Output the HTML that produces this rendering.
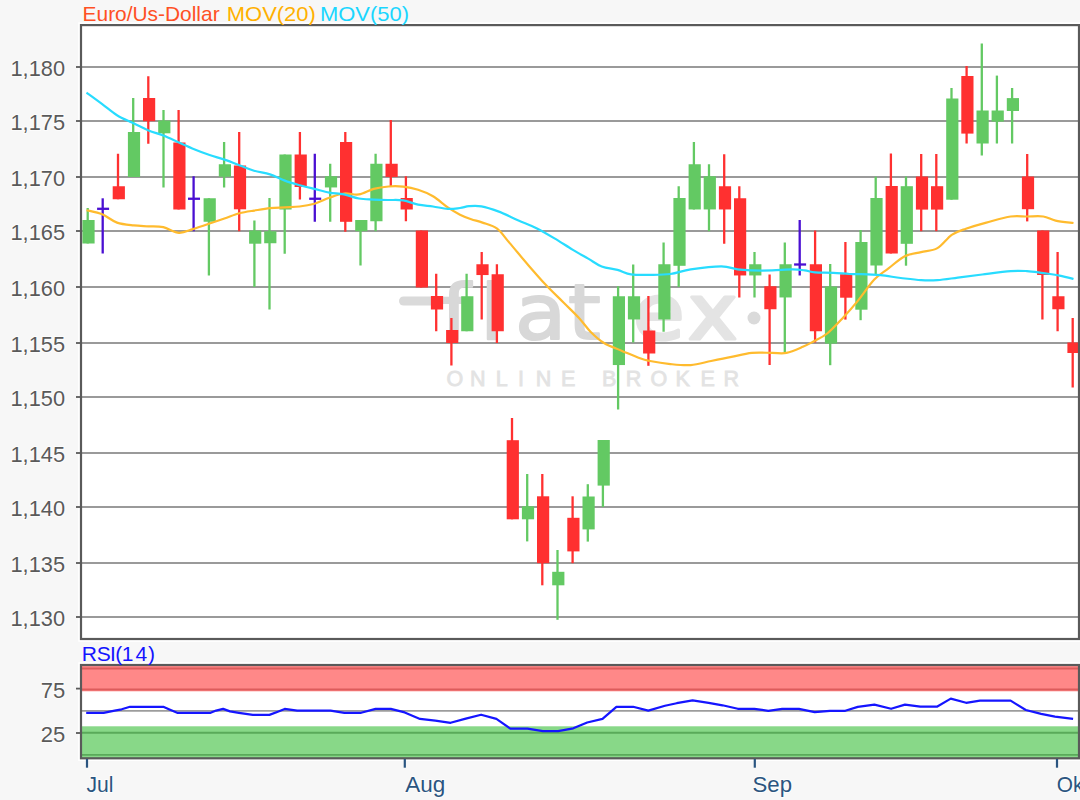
<!DOCTYPE html>
<html><head><meta charset="utf-8"><title>Euro/Us-Dollar</title>
<style>html,body{margin:0;padding:0;background:#f7f7f7;width:1080px;height:800px;overflow:hidden}svg{display:block}</style>
</head><body>
<svg width="1080" height="800" viewBox="0 0 1080 800">
<rect x="0" y="0" width="1080" height="800" fill="#f7f7f7"/>
<rect x="81" y="25.1" width="998" height="613.9" fill="#ffffff" stroke="#ffffff" stroke-width="5.6"/>
<line x1="81" y1="67.0" x2="1079" y2="67.0" stroke="#9a9a9a" stroke-width="1.8"/>
<line x1="76" y1="67.0" x2="81" y2="67.0" stroke="#5a5a5a" stroke-width="1.8"/>
<line x1="81" y1="121.0" x2="1079" y2="121.0" stroke="#9a9a9a" stroke-width="1.8"/>
<line x1="76" y1="121.0" x2="81" y2="121.0" stroke="#5a5a5a" stroke-width="1.8"/>
<line x1="81" y1="177.0" x2="1079" y2="177.0" stroke="#9a9a9a" stroke-width="1.8"/>
<line x1="76" y1="177.0" x2="81" y2="177.0" stroke="#5a5a5a" stroke-width="1.8"/>
<line x1="81" y1="231.0" x2="1079" y2="231.0" stroke="#9a9a9a" stroke-width="1.8"/>
<line x1="76" y1="231.0" x2="81" y2="231.0" stroke="#5a5a5a" stroke-width="1.8"/>
<line x1="81" y1="287.0" x2="1079" y2="287.0" stroke="#9a9a9a" stroke-width="1.8"/>
<line x1="76" y1="287.0" x2="81" y2="287.0" stroke="#5a5a5a" stroke-width="1.8"/>
<line x1="81" y1="343.0" x2="1079" y2="343.0" stroke="#9a9a9a" stroke-width="1.8"/>
<line x1="76" y1="343.0" x2="81" y2="343.0" stroke="#5a5a5a" stroke-width="1.8"/>
<line x1="81" y1="397.0" x2="1079" y2="397.0" stroke="#9a9a9a" stroke-width="1.8"/>
<line x1="76" y1="397.0" x2="81" y2="397.0" stroke="#5a5a5a" stroke-width="1.8"/>
<line x1="81" y1="453.0" x2="1079" y2="453.0" stroke="#9a9a9a" stroke-width="1.8"/>
<line x1="76" y1="453.0" x2="81" y2="453.0" stroke="#5a5a5a" stroke-width="1.8"/>
<line x1="81" y1="507.0" x2="1079" y2="507.0" stroke="#9a9a9a" stroke-width="1.8"/>
<line x1="76" y1="507.0" x2="81" y2="507.0" stroke="#5a5a5a" stroke-width="1.8"/>
<line x1="81" y1="563.0" x2="1079" y2="563.0" stroke="#9a9a9a" stroke-width="1.8"/>
<line x1="76" y1="563.0" x2="81" y2="563.0" stroke="#5a5a5a" stroke-width="1.8"/>
<line x1="81" y1="617.0" x2="1079" y2="617.0" stroke="#9a9a9a" stroke-width="1.8"/>
<line x1="76" y1="617.0" x2="81" y2="617.0" stroke="#5a5a5a" stroke-width="1.8"/>
<g fill="#dadada" stroke="none">
<rect x="399" y="296.5" width="42" height="9" rx="4.5"/>
<circle cx="754" cy="318" r="6.5"/>
</g>
<text transform="scale(1.1,1)" x="400.9 436.4 468.2 516.4 575.5 625.5" y="339" font-family="DejaVu Sans, sans-serif" font-size="76" fill="#d8d8d8" stroke="#d8d8d8" stroke-width="2" stroke-linejoin="round">flat<tspan fill="#e4e4e4" stroke="#e4e4e4" stroke-width="3.2">ex</tspan></text>
<text x="446.4 469.9 495.8 518 535.8 561 580 602.1 625.8 650.5 675.4 700.6 723.6" y="385.8" font-family="Liberation Sans, sans-serif" font-size="21.5" fill="#e3e3e3" stroke="#e3e3e3" stroke-width="0.8">ONLINE BROKER</text>
<line x1="87.7" y1="208" x2="87.7" y2="243.5" stroke="#63c963" stroke-width="2.3"/>
<rect x="82.4" y="220" width="12.2" height="23.5" fill="#63c963"/>
<line x1="102.7" y1="198.3" x2="102.7" y2="253.5" stroke="#4a0fd2" stroke-width="2.3"/>
<line x1="97.1" y1="208.8" x2="109.1" y2="208.8" stroke="#4a0fd2" stroke-width="2.3"/>
<line x1="118.0" y1="153.75" x2="118.0" y2="199.25" stroke="#ff3030" stroke-width="2.3"/>
<rect x="112.7" y="186.25" width="12.2" height="13.0" fill="#ff3030"/>
<line x1="133.2" y1="98" x2="133.2" y2="177" stroke="#63c963" stroke-width="2.3"/>
<rect x="127.9" y="132" width="12.2" height="45.0" fill="#63c963"/>
<line x1="148.3" y1="76.25" x2="148.3" y2="143.75" stroke="#ff3030" stroke-width="2.3"/>
<rect x="143.0" y="98" width="12.2" height="23.2" fill="#ff3030"/>
<line x1="163.5" y1="110" x2="163.5" y2="187.5" stroke="#63c963" stroke-width="2.3"/>
<rect x="158.2" y="120.5" width="12.2" height="12.8" fill="#63c963"/>
<line x1="178.6" y1="110" x2="178.6" y2="209.5" stroke="#ff3030" stroke-width="2.3"/>
<rect x="173.3" y="142.5" width="12.2" height="67.0" fill="#ff3030"/>
<line x1="193.6" y1="176.25" x2="193.6" y2="231.25" stroke="#4a0fd2" stroke-width="2.3"/>
<line x1="188.0" y1="198.75" x2="200.0" y2="198.75" stroke="#4a0fd2" stroke-width="2.3"/>
<line x1="208.9" y1="198.25" x2="208.9" y2="275.5" stroke="#63c963" stroke-width="2.3"/>
<rect x="203.6" y="198.25" width="12.2" height="23.5" fill="#63c963"/>
<line x1="224.1" y1="142" x2="224.1" y2="187.5" stroke="#63c963" stroke-width="2.3"/>
<rect x="218.8" y="164.25" width="12.2" height="12.5" fill="#63c963"/>
<line x1="239.2" y1="132" x2="239.2" y2="231.25" stroke="#ff3030" stroke-width="2.3"/>
<rect x="233.9" y="165.5" width="12.2" height="43.8" fill="#ff3030"/>
<line x1="254.4" y1="220.5" x2="254.4" y2="287" stroke="#63c963" stroke-width="2.3"/>
<rect x="249.1" y="230.5" width="12.2" height="13.2" fill="#63c963"/>
<line x1="269.5" y1="198" x2="269.5" y2="309.5" stroke="#63c963" stroke-width="2.3"/>
<rect x="264.2" y="231.25" width="12.2" height="12.0" fill="#63c963"/>
<line x1="284.7" y1="154.5" x2="284.7" y2="253.75" stroke="#63c963" stroke-width="2.3"/>
<rect x="279.4" y="154.5" width="12.2" height="55.0" fill="#63c963"/>
<line x1="299.9" y1="132" x2="299.9" y2="199.5" stroke="#ff3030" stroke-width="2.3"/>
<rect x="294.6" y="154.5" width="12.2" height="32.5" fill="#ff3030"/>
<line x1="314.8" y1="153.75" x2="314.8" y2="221.75" stroke="#4a0fd2" stroke-width="2.3"/>
<line x1="309.2" y1="198.75" x2="321.2" y2="198.75" stroke="#4a0fd2" stroke-width="2.3"/>
<line x1="330.2" y1="163.75" x2="330.2" y2="221.75" stroke="#63c963" stroke-width="2.3"/>
<rect x="324.9" y="176.25" width="12.2" height="11.2" fill="#63c963"/>
<line x1="345.3" y1="132" x2="345.3" y2="231.75" stroke="#ff3030" stroke-width="2.3"/>
<rect x="340.0" y="142" width="12.2" height="79.8" fill="#ff3030"/>
<line x1="360.5" y1="220" x2="360.5" y2="265.5" stroke="#63c963" stroke-width="2.3"/>
<rect x="355.2" y="220" width="12.2" height="11.2" fill="#63c963"/>
<line x1="375.6" y1="153.75" x2="375.6" y2="231.25" stroke="#63c963" stroke-width="2.3"/>
<rect x="370.3" y="163.75" width="12.2" height="57.5" fill="#63c963"/>
<line x1="390.8" y1="120" x2="390.8" y2="186.25" stroke="#ff3030" stroke-width="2.3"/>
<rect x="385.5" y="163.75" width="12.2" height="13.2" fill="#ff3030"/>
<line x1="405.9" y1="176.25" x2="405.9" y2="221.25" stroke="#ff3030" stroke-width="2.3"/>
<rect x="400.6" y="198" width="12.2" height="11.5" fill="#ff3030"/>
<line x1="421.1" y1="230.5" x2="421.1" y2="287.5" stroke="#ff3030" stroke-width="2.3"/>
<rect x="415.8" y="230.5" width="12.2" height="57.0" fill="#ff3030"/>
<line x1="436.2" y1="273.75" x2="436.2" y2="331.25" stroke="#ff3030" stroke-width="2.3"/>
<rect x="430.9" y="296" width="12.2" height="13.5" fill="#ff3030"/>
<line x1="451.4" y1="318" x2="451.4" y2="365.5" stroke="#ff3030" stroke-width="2.3"/>
<rect x="446.1" y="330" width="12.2" height="13.0" fill="#ff3030"/>
<line x1="466.6" y1="273.75" x2="466.6" y2="331.25" stroke="#63c963" stroke-width="2.3"/>
<rect x="461.2" y="296.25" width="12.2" height="35.0" fill="#63c963"/>
<line x1="481.7" y1="252" x2="481.7" y2="319.5" stroke="#ff3030" stroke-width="2.3"/>
<rect x="476.4" y="264.25" width="12.2" height="10.8" fill="#ff3030"/>
<line x1="496.9" y1="264.25" x2="496.9" y2="343" stroke="#ff3030" stroke-width="2.3"/>
<rect x="491.6" y="274.25" width="12.2" height="57.0" fill="#ff3030"/>
<line x1="512.0" y1="418" x2="512.0" y2="519.3" stroke="#ff3030" stroke-width="2.3"/>
<rect x="506.7" y="440.2" width="12.2" height="79.1" fill="#ff3030"/>
<line x1="527.2" y1="474" x2="527.2" y2="541.4" stroke="#63c963" stroke-width="2.3"/>
<rect x="521.9" y="506.3" width="12.2" height="13.0" fill="#63c963"/>
<line x1="542.3" y1="474" x2="542.3" y2="585.3" stroke="#ff3030" stroke-width="2.3"/>
<rect x="537.0" y="496.3" width="12.2" height="66.9" fill="#ff3030"/>
<line x1="557.5" y1="550" x2="557.5" y2="619.8" stroke="#63c963" stroke-width="2.3"/>
<rect x="552.2" y="571.8" width="12.2" height="13.5" fill="#63c963"/>
<line x1="572.6" y1="496.3" x2="572.6" y2="563.2" stroke="#ff3030" stroke-width="2.3"/>
<rect x="567.3" y="517.8" width="12.2" height="33.6" fill="#ff3030"/>
<line x1="587.8" y1="484.2" x2="587.8" y2="541.6" stroke="#63c963" stroke-width="2.3"/>
<rect x="582.5" y="496.5" width="12.2" height="32.9" fill="#63c963"/>
<line x1="602.9" y1="440" x2="602.9" y2="507" stroke="#63c963" stroke-width="2.3"/>
<rect x="597.6" y="440" width="12.2" height="45.6" fill="#63c963"/>
<line x1="618.1" y1="286.25" x2="618.1" y2="409.5" stroke="#63c963" stroke-width="2.3"/>
<rect x="612.8" y="296.25" width="12.2" height="68.8" fill="#63c963"/>
<line x1="633.2" y1="264.5" x2="633.2" y2="342.5" stroke="#63c963" stroke-width="2.3"/>
<rect x="627.9" y="296.25" width="12.2" height="23.2" fill="#63c963"/>
<line x1="648.4" y1="296" x2="648.4" y2="365.8" stroke="#ff3030" stroke-width="2.3"/>
<rect x="643.1" y="330.5" width="12.2" height="23.0" fill="#ff3030"/>
<line x1="663.6" y1="242.5" x2="663.6" y2="331.75" stroke="#63c963" stroke-width="2.3"/>
<rect x="658.3" y="264.25" width="12.2" height="55.2" fill="#63c963"/>
<line x1="678.7" y1="186.25" x2="678.7" y2="287" stroke="#63c963" stroke-width="2.3"/>
<rect x="673.4" y="198" width="12.2" height="67.8" fill="#63c963"/>
<line x1="693.9" y1="142" x2="693.9" y2="209.5" stroke="#63c963" stroke-width="2.3"/>
<rect x="688.6" y="164.25" width="12.2" height="45.2" fill="#63c963"/>
<line x1="709.0" y1="164.25" x2="709.0" y2="231.25" stroke="#63c963" stroke-width="2.3"/>
<rect x="703.7" y="176.25" width="12.2" height="33.2" fill="#63c963"/>
<line x1="724.2" y1="154.25" x2="724.2" y2="243.75" stroke="#ff3030" stroke-width="2.3"/>
<rect x="718.9" y="186.25" width="12.2" height="23.2" fill="#ff3030"/>
<line x1="739.3" y1="186.25" x2="739.3" y2="297.5" stroke="#ff3030" stroke-width="2.3"/>
<rect x="734.0" y="198.25" width="12.2" height="77.2" fill="#ff3030"/>
<line x1="754.5" y1="252" x2="754.5" y2="297.5" stroke="#63c963" stroke-width="2.3"/>
<rect x="749.2" y="264.25" width="12.2" height="11.2" fill="#63c963"/>
<line x1="769.6" y1="274.5" x2="769.6" y2="365" stroke="#ff3030" stroke-width="2.3"/>
<rect x="764.3" y="286.25" width="12.2" height="23.0" fill="#ff3030"/>
<line x1="784.8" y1="242.5" x2="784.8" y2="352" stroke="#63c963" stroke-width="2.3"/>
<rect x="779.5" y="264.25" width="12.2" height="33.2" fill="#63c963"/>
<line x1="799.7" y1="220" x2="799.7" y2="275.5" stroke="#4a0fd2" stroke-width="2.3"/>
<line x1="794.1" y1="264.5" x2="806.1" y2="264.5" stroke="#4a0fd2" stroke-width="2.3"/>
<line x1="815.1" y1="230.5" x2="815.1" y2="342.5" stroke="#ff3030" stroke-width="2.3"/>
<rect x="809.8" y="264.25" width="12.2" height="67.0" fill="#ff3030"/>
<line x1="830.2" y1="264" x2="830.2" y2="365.2" stroke="#63c963" stroke-width="2.3"/>
<rect x="824.9" y="286.5" width="12.2" height="57.1" fill="#63c963"/>
<line x1="845.4" y1="242" x2="845.4" y2="319.6" stroke="#ff3030" stroke-width="2.3"/>
<rect x="840.1" y="274.2" width="12.2" height="23.5" fill="#ff3030"/>
<line x1="860.6" y1="230" x2="860.6" y2="320.2" stroke="#63c963" stroke-width="2.3"/>
<rect x="855.3" y="242" width="12.2" height="67.7" fill="#63c963"/>
<line x1="875.7" y1="176.6" x2="875.7" y2="274.5" stroke="#63c963" stroke-width="2.3"/>
<rect x="870.4" y="198" width="12.2" height="67.5" fill="#63c963"/>
<line x1="890.9" y1="153.5" x2="890.9" y2="253.5" stroke="#ff3030" stroke-width="2.3"/>
<rect x="885.6" y="186" width="12.2" height="67.5" fill="#ff3030"/>
<line x1="906.0" y1="176.5" x2="906.0" y2="265.7" stroke="#63c963" stroke-width="2.3"/>
<rect x="900.7" y="186.2" width="12.2" height="57.6" fill="#63c963"/>
<line x1="921.2" y1="154" x2="921.2" y2="231.2" stroke="#ff3030" stroke-width="2.3"/>
<rect x="915.9" y="176.5" width="12.2" height="33.1" fill="#ff3030"/>
<line x1="936.3" y1="154" x2="936.3" y2="231.2" stroke="#ff3030" stroke-width="2.3"/>
<rect x="931.0" y="186.2" width="12.2" height="23.4" fill="#ff3030"/>
<line x1="951.5" y1="88" x2="951.5" y2="199.7" stroke="#63c963" stroke-width="2.3"/>
<rect x="946.2" y="98.5" width="12.2" height="101.2" fill="#63c963"/>
<line x1="966.6" y1="66" x2="966.6" y2="143.5" stroke="#ff3030" stroke-width="2.3"/>
<rect x="961.3" y="76" width="12.2" height="57.6" fill="#ff3030"/>
<line x1="981.8" y1="43.5" x2="981.8" y2="155.5" stroke="#63c963" stroke-width="2.3"/>
<rect x="976.5" y="110.5" width="12.2" height="33.0" fill="#63c963"/>
<line x1="996.9" y1="75.6" x2="996.9" y2="143.5" stroke="#63c963" stroke-width="2.3"/>
<rect x="991.6" y="110.5" width="12.2" height="11.1" fill="#63c963"/>
<line x1="1012.1" y1="88" x2="1012.1" y2="143.5" stroke="#63c963" stroke-width="2.3"/>
<rect x="1006.8" y="98.1" width="12.2" height="12.9" fill="#63c963"/>
<line x1="1027.2" y1="154" x2="1027.2" y2="221.4" stroke="#ff3030" stroke-width="2.3"/>
<rect x="1021.9" y="176.5" width="12.2" height="32.7" fill="#ff3030"/>
<line x1="1042.4" y1="230.5" x2="1042.4" y2="319.5" stroke="#ff3030" stroke-width="2.3"/>
<rect x="1037.1" y="230.5" width="12.2" height="44.5" fill="#ff3030"/>
<line x1="1057.6" y1="252" x2="1057.6" y2="331.25" stroke="#ff3030" stroke-width="2.3"/>
<rect x="1052.3" y="296.25" width="12.2" height="13.0" fill="#ff3030"/>
<line x1="1072.7" y1="318" x2="1072.7" y2="387.5" stroke="#ff3030" stroke-width="2.3"/>
<rect x="1067.4" y="342.5" width="12.2" height="10.5" fill="#ff3030"/>
<path d="M86.5,210.2 C89.1,210.9 97.1,212.2 102.2,214.3 C107.3,216.4 111.8,220.8 117.0,222.6 C122.2,224.4 128.4,224.8 133.7,225.4 C138.9,226.0 143.6,226.0 148.5,226.3 C153.4,226.6 158.2,226.1 163.3,227.2 C168.4,228.3 174.1,232.5 179.0,232.8 C183.9,233.1 187.9,230.7 193.0,229.1 C198.1,227.5 204.4,225.3 209.6,223.5 C214.8,221.7 219.4,220.2 224.4,218.5 C229.4,216.8 234.4,214.6 239.3,213.3 C244.2,212.0 248.9,211.4 254.0,210.6 C259.1,209.8 264.9,208.8 270.0,208.2 C275.1,207.6 279.9,207.6 284.8,207.3 C289.7,207.0 294.7,207.1 299.6,206.5 C304.5,205.9 309.4,205.1 314.4,203.7 C319.3,202.2 324.4,199.5 329.3,197.8 C334.2,196.1 339.1,194.1 344.0,193.5 C348.9,192.9 353.9,195.2 358.9,194.4 C363.8,193.6 368.8,190.2 373.7,188.9 C378.6,187.6 383.6,186.9 388.5,186.5 C393.4,186.1 398.4,186.1 403.3,186.7 C408.2,187.2 413.2,188.2 418.1,189.8 C423.1,191.4 428.1,193.4 433.0,196.3 C437.9,199.2 443.3,204.3 447.8,207.4 C452.3,210.5 456.1,212.7 460.0,214.7 C463.9,216.7 467.4,217.9 471.2,219.2 C474.9,220.5 478.2,221.0 482.5,222.6 C486.8,224.2 492.6,225.3 497.1,228.7 C501.6,232.1 504.4,237.0 509.5,242.9 C514.6,248.8 521.5,257.3 527.5,264.2 C533.5,271.1 539.5,278.1 545.5,284.5 C551.5,290.9 557.9,296.9 563.5,302.5 C569.1,308.1 574.7,313.3 579.2,318.2 C583.7,323.1 586.4,327.6 590.5,331.7 C594.6,335.8 598.8,339.8 604.0,343.0 C609.2,346.2 616.0,348.3 622.0,350.9 C628.0,353.4 635.3,356.6 640.0,358.3 C644.7,360.0 644.9,360.0 650.0,361.0 C655.1,362.0 663.6,363.4 670.4,364.1 C677.2,364.8 683.9,365.6 690.7,365.1 C697.5,364.6 704.3,362.4 711.1,361.0 C717.9,359.6 724.7,358.2 731.5,356.9 C738.3,355.5 745.1,353.6 751.9,352.9 C758.7,352.2 766.4,352.9 772.2,352.9 C778.0,352.9 781.4,353.9 786.5,352.9 C791.6,351.9 798.4,348.7 802.8,346.8 C807.2,344.9 808.9,343.9 813.0,341.7 C817.1,339.5 822.1,337.6 827.2,333.5 C832.3,329.4 838.4,322.6 843.5,317.2 C848.6,311.8 852.7,307.2 857.8,300.9 C862.9,294.6 869.2,285.0 874.3,279.6 C879.4,274.2 883.4,272.3 888.5,268.4 C893.6,264.5 899.4,258.9 904.8,256.2 C910.2,253.5 915.7,253.4 921.1,252.1 C926.5,250.8 932.3,251.0 937.4,248.1 C942.5,245.2 947.0,238.0 951.7,234.8 C956.5,231.6 960.1,230.7 965.9,228.7 C971.7,226.7 978.8,224.6 986.3,222.6 C993.8,220.6 1003.9,217.5 1010.7,216.5 C1017.5,215.5 1021.6,216.5 1027.0,216.5 C1032.4,216.5 1038.5,215.8 1043.3,216.5 C1048.1,217.2 1050.6,219.5 1055.6,220.6 C1060.6,221.7 1070.5,222.6 1073.5,223.0" fill="none" stroke="#ffbb2e" stroke-width="2.2" stroke-linejoin="round"/>
<path d="M86.5,92.6 C89.1,94.5 97.1,100.3 102.2,104.1 C107.3,107.9 112.0,112.1 117.0,115.2 C122.0,118.3 126.7,120.1 131.9,122.6 C137.2,125.1 143.3,128.2 148.5,130.4 C153.7,132.6 158.1,133.5 163.3,135.6 C168.6,137.7 174.8,140.7 180.0,143.0 C185.2,145.3 189.9,147.4 194.8,149.4 C199.7,151.4 204.7,153.3 209.6,155.0 C214.5,156.7 219.4,157.9 224.4,159.6 C229.4,161.3 234.4,163.3 239.3,165.2 C244.2,167.0 248.9,169.2 254.0,170.7 C259.1,172.2 264.9,172.8 270.0,174.4 C275.1,176.1 279.9,178.8 284.8,180.6 C289.7,182.4 294.7,183.8 299.6,185.2 C304.5,186.6 309.4,187.7 314.4,188.9 C319.3,190.1 324.4,191.7 329.3,192.6 C334.2,193.5 339.1,193.4 344.0,194.4 C348.9,195.4 353.9,197.6 358.9,198.5 C363.8,199.4 368.8,199.3 373.7,199.6 C378.6,199.8 383.6,199.9 388.5,200.0 C393.4,200.1 398.4,199.6 403.3,200.4 C408.2,201.2 413.2,203.6 418.1,204.6 C423.1,205.6 428.1,205.8 433.0,206.5 C437.9,207.2 443.3,208.7 447.8,208.9 C452.3,209.2 456.5,208.4 460.0,208.0 C463.5,207.6 465.4,206.5 469.0,206.2 C472.6,205.9 476.5,205.5 481.4,206.4 C486.3,207.3 492.0,209.1 498.2,211.4 C504.4,213.7 512.1,217.6 518.5,220.4 C524.9,223.2 530.5,225.2 536.5,228.2 C542.5,231.2 548.5,234.8 554.5,238.4 C560.5,242.0 566.9,246.2 572.5,249.6 C578.1,253.0 583.3,255.8 588.2,258.6 C593.1,261.4 596.8,264.6 601.7,266.5 C606.6,268.4 612.6,268.6 617.5,269.9 C622.4,271.2 625.6,273.6 631.0,274.4 C636.4,275.2 643.4,275.0 650.0,274.9 C656.6,274.8 663.6,274.9 670.4,274.0 C677.2,273.1 682.2,270.7 690.7,269.4 C699.2,268.1 713.5,266.3 721.3,266.3 C729.1,266.3 732.5,268.7 737.6,269.4 C742.7,270.1 746.1,270.2 751.9,270.4 C757.7,270.6 765.4,270.6 772.2,270.4 C779.0,270.2 787.2,269.4 792.6,269.4 C798.0,269.4 801.1,269.9 804.8,270.4 C808.5,270.9 810.2,272.0 815.0,272.4 C819.8,272.8 827.5,272.5 833.3,272.8 C839.1,273.1 845.1,273.8 849.6,274.0 C854.1,274.2 854.9,273.9 860.0,274.1 C865.1,274.3 873.6,274.6 880.4,275.2 C887.2,275.8 893.9,277.2 900.7,278.0 C907.5,278.8 915.0,279.8 921.1,280.2 C927.2,280.6 931.3,280.6 937.4,280.2 C943.5,279.8 950.3,278.6 957.8,277.6 C965.3,276.7 973.4,275.6 982.2,274.5 C991.0,273.4 1003.2,271.7 1010.7,271.1 C1018.2,270.5 1021.6,270.8 1027.0,271.1 C1032.4,271.4 1037.9,272.4 1043.3,273.1 C1048.7,273.9 1054.6,274.6 1059.6,275.6 C1064.6,276.6 1071.2,278.4 1073.5,279.0" fill="none" stroke="#28dcff" stroke-width="2.2" stroke-linejoin="round"/>
<rect x="81" y="25.1" width="998" height="613.9" fill="none" stroke="#5a5a5a" stroke-width="2.2"/>
<text x="10.5" y="76.1" font-family="Liberation Sans, sans-serif" font-size="22.5" fill="#5a5a5a" stroke="#fff" stroke-width="2" stroke-opacity="0.7" paint-order="stroke" textLength="54.5" lengthAdjust="spacingAndGlyphs">1,180</text>
<text x="10.5" y="130.1" font-family="Liberation Sans, sans-serif" font-size="22.5" fill="#5a5a5a" stroke="#fff" stroke-width="2" stroke-opacity="0.7" paint-order="stroke" textLength="54.5" lengthAdjust="spacingAndGlyphs">1,175</text>
<text x="10.5" y="186.1" font-family="Liberation Sans, sans-serif" font-size="22.5" fill="#5a5a5a" stroke="#fff" stroke-width="2" stroke-opacity="0.7" paint-order="stroke" textLength="54.5" lengthAdjust="spacingAndGlyphs">1,170</text>
<text x="10.5" y="240.1" font-family="Liberation Sans, sans-serif" font-size="22.5" fill="#5a5a5a" stroke="#fff" stroke-width="2" stroke-opacity="0.7" paint-order="stroke" textLength="54.5" lengthAdjust="spacingAndGlyphs">1,165</text>
<text x="10.5" y="296.1" font-family="Liberation Sans, sans-serif" font-size="22.5" fill="#5a5a5a" stroke="#fff" stroke-width="2" stroke-opacity="0.7" paint-order="stroke" textLength="54.5" lengthAdjust="spacingAndGlyphs">1,160</text>
<text x="10.5" y="352.1" font-family="Liberation Sans, sans-serif" font-size="22.5" fill="#5a5a5a" stroke="#fff" stroke-width="2" stroke-opacity="0.7" paint-order="stroke" textLength="54.5" lengthAdjust="spacingAndGlyphs">1,155</text>
<text x="10.5" y="406.1" font-family="Liberation Sans, sans-serif" font-size="22.5" fill="#5a5a5a" stroke="#fff" stroke-width="2" stroke-opacity="0.7" paint-order="stroke" textLength="54.5" lengthAdjust="spacingAndGlyphs">1,150</text>
<text x="10.5" y="462.1" font-family="Liberation Sans, sans-serif" font-size="22.5" fill="#5a5a5a" stroke="#fff" stroke-width="2" stroke-opacity="0.7" paint-order="stroke" textLength="54.5" lengthAdjust="spacingAndGlyphs">1,145</text>
<text x="10.5" y="516.1" font-family="Liberation Sans, sans-serif" font-size="22.5" fill="#5a5a5a" stroke="#fff" stroke-width="2" stroke-opacity="0.7" paint-order="stroke" textLength="54.5" lengthAdjust="spacingAndGlyphs">1,140</text>
<text x="10.5" y="572.1" font-family="Liberation Sans, sans-serif" font-size="22.5" fill="#5a5a5a" stroke="#fff" stroke-width="2" stroke-opacity="0.7" paint-order="stroke" textLength="54.5" lengthAdjust="spacingAndGlyphs">1,135</text>
<text x="10.5" y="626.1" font-family="Liberation Sans, sans-serif" font-size="22.5" fill="#5a5a5a" stroke="#fff" stroke-width="2" stroke-opacity="0.7" paint-order="stroke" textLength="54.5" lengthAdjust="spacingAndGlyphs">1,130</text>
<text x="82.6" y="21.3" font-family="Liberation Sans, sans-serif" font-size="21" fill="#ff5024" textLength="137" lengthAdjust="spacingAndGlyphs">Euro/Us-Dollar</text>
<text x="226.8" y="21.3" font-family="Liberation Sans, sans-serif" font-size="21" fill="#ffb000" textLength="89" lengthAdjust="spacingAndGlyphs">MOV(20)</text>
<text x="320" y="21.3" font-family="Liberation Sans, sans-serif" font-size="21" fill="#1ad6ff" textLength="89" lengthAdjust="spacingAndGlyphs">MOV(50)</text>
<rect x="81" y="665" width="998" height="93.29999999999995" fill="#ffffff" stroke="#ffffff" stroke-width="5.6"/>
<rect x="81" y="665" width="998" height="26.299999999999955" fill="#ff8888"/>
<rect x="81" y="726.3" width="998" height="32.0" fill="#88d888"/>
<line x1="81" y1="668.5" x2="1079" y2="668.5" stroke="#dd5c5c" stroke-width="1.8"/>
<line x1="81" y1="689.4" x2="1079" y2="689.4" stroke="#dd5c5c" stroke-width="2"/>
<line x1="81" y1="710.9" x2="1079" y2="710.9" stroke="#9c9c9c" stroke-width="1.8"/>
<line x1="81" y1="732.8" x2="1079" y2="732.8" stroke="#5aaa5a" stroke-width="2"/>
<line x1="81" y1="754.9" x2="1079" y2="754.9" stroke="#5aaa5a" stroke-width="1.8"/>
<polyline points="86.2,712.8 103.6,712.8 114.7,710.6 121.7,709.3 130.0,706.8 163.3,706.8 168.9,709.3 177.2,712.8 210.6,712.8 216.1,710.6 223.1,708.9 230.0,711.4 238.9,712.8 252.8,714.9 269.4,714.9 277.8,711.7 284.7,708.9 297.2,710.6 330.6,710.6 344.4,712.8 361.1,712.8 375.6,708.9 390.8,708.9 404.7,712.4 420.0,718.9 435.3,720.7 450.6,722.8 465.8,718.6 481.1,714.7 496.4,718.9 510.3,728.6 527.5,728.6 542.8,731.1 558.1,731.1 573.3,728.3 587.2,722.5 602.5,718.9 616.4,706.8 633.1,706.8 648.3,710.6 665.0,705.8 676.7,703.2 692.6,700.4 708.6,702.8 722.5,705.3 737.8,708.8 754.4,708.8 768.3,710.8 782.2,708.8 798.9,708.8 814.7,712.2 830.0,710.8 845.3,710.8 857.8,706.9 874.4,704.6 891.1,708.8 905.0,704.6 920.3,706.7 936.9,706.7 950.8,698.6 966.1,702.8 980.0,700.6 1010.6,700.6 1025.8,710.0 1041.1,713.9 1055.0,716.7 1073.1,718.8" fill="none" stroke="#1515ff" stroke-width="2.2" stroke-linejoin="round"/>
<rect x="81" y="665" width="998" height="93.29999999999995" fill="none" stroke="#5a5a5a" stroke-width="2.2"/>
<line x1="76" y1="688.6" x2="81" y2="688.6" stroke="#5a5a5a" stroke-width="1.8"/>
<line x1="76" y1="733" x2="81" y2="733" stroke="#5a5a5a" stroke-width="1.8"/>
<text x="40.8" y="697.6" font-family="Liberation Sans, sans-serif" font-size="22.5" fill="#5a5a5a" stroke="#fff" stroke-width="2" stroke-opacity="0.7" paint-order="stroke" textLength="24.5" lengthAdjust="spacingAndGlyphs">75</text>
<text x="40.8" y="741.9" font-family="Liberation Sans, sans-serif" font-size="22.5" fill="#5a5a5a" stroke="#fff" stroke-width="2" stroke-opacity="0.7" paint-order="stroke" textLength="24.5" lengthAdjust="spacingAndGlyphs">25</text>
<text x="81.7 96.8 109.9 115.3 121.7 135.6 148.1" y="661.3" font-family="Liberation Sans, sans-serif" font-size="21" fill="#1414ff">RSI(14)</text>
<line x1="87" y1="759" x2="87" y2="767.7" stroke="#2b5580" stroke-width="2.2"/>
<text x="86.5" y="791.7" font-family="Liberation Sans, sans-serif" font-size="22.5" fill="#2b5580" stroke="#fff" stroke-width="2" stroke-opacity="0.7" paint-order="stroke" textLength="27" lengthAdjust="spacingAndGlyphs">Jul</text>
<line x1="404.8" y1="759" x2="404.8" y2="767.7" stroke="#2b5580" stroke-width="2.2"/>
<text x="405.2" y="791.7" font-family="Liberation Sans, sans-serif" font-size="22.5" fill="#2b5580" stroke="#fff" stroke-width="2" stroke-opacity="0.7" paint-order="stroke" textLength="40" lengthAdjust="spacingAndGlyphs">Aug</text>
<line x1="754.8" y1="759" x2="754.8" y2="767.7" stroke="#2b5580" stroke-width="2.2"/>
<text x="752.5" y="791.7" font-family="Liberation Sans, sans-serif" font-size="22.5" fill="#2b5580" stroke="#fff" stroke-width="2" stroke-opacity="0.7" paint-order="stroke" textLength="39.5" lengthAdjust="spacingAndGlyphs">Sep</text>
<line x1="1057" y1="759" x2="1057" y2="767.7" stroke="#2b5580" stroke-width="2.2"/>
<text x="1056.8" y="791.7" font-family="Liberation Sans, sans-serif" font-size="22.5" fill="#2b5580" stroke="#fff" stroke-width="2" stroke-opacity="0.7" paint-order="stroke" textLength="32.5" lengthAdjust="spacingAndGlyphs">Okt</text>
</svg>
</body></html>
